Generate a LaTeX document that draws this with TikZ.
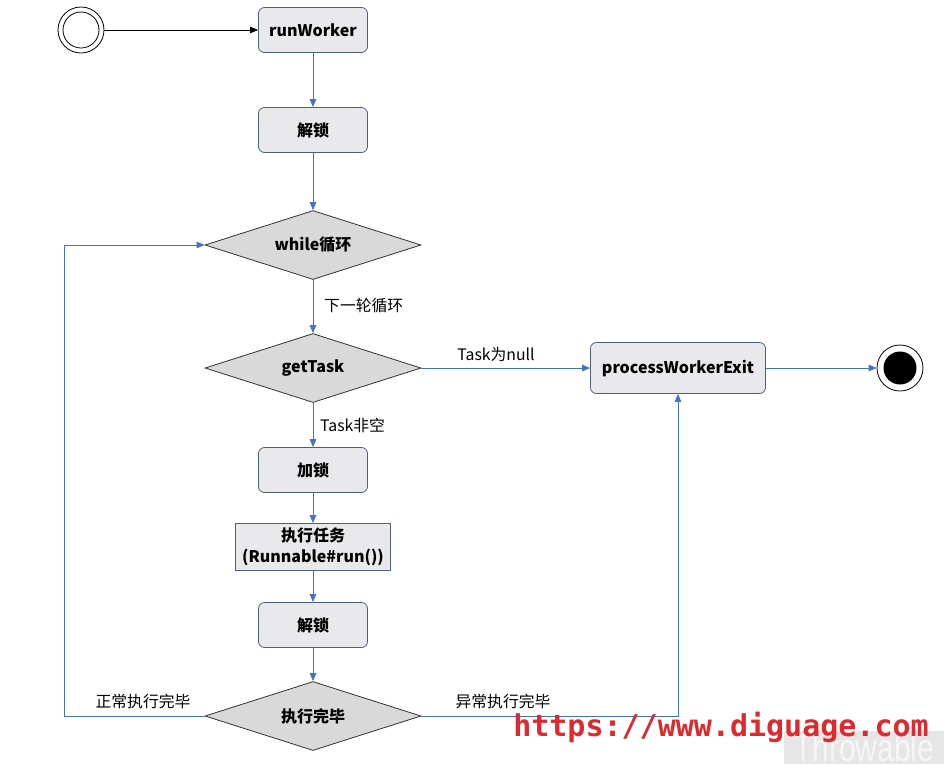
\documentclass[tikz,border=0pt]{standalone}
\usepackage{fontspec}
\setmainfont{Noto Sans CJK SC}
\newfontfamily\wmfont{DejaVu Sans Mono}
\newfontfamily\wmsans{Liberation Sans}
\usetikzlibrary{shapes.geometric,arrows.meta}
\definecolor{boxfill}{HTML}{E9E9EB}
\definecolor{boxline}{HTML}{4E5D80}
\definecolor{diafill}{HTML}{D9D9D9}
\definecolor{flowblue}{HTML}{4472C4}
\definecolor{wmred}{HTML}{DC2A2E}
\definecolor{wmbox}{HTML}{E6E6E6}
\definecolor{wmtext}{HTML}{F6F6F6}
\tikzset{
  statebox/.style={draw=boxline, fill=boxfill, rounded corners=6pt, line width=0.8pt,
    minimum width=109pt, minimum height=45pt, inner sep=0pt,
    font=\fontsize{16}{19}\selectfont\bfseries},
  taskbox/.style={draw=boxline, fill=boxfill, line width=0.8pt,
    minimum width=155pt, minimum height=47pt, inner sep=0pt, align=center,
    font=\fontsize{16}{21}\selectfont\bfseries},
  decision/.style={diamond, draw=black!80, fill=diafill, line width=0.8pt,
    minimum width=216pt, minimum height=69pt, inner sep=0pt, aspect=3.1,
    font=\fontsize{16}{19}\selectfont\bfseries},
  flow/.style={draw=flowblue, line width=0.8pt, -{Triangle[length=8pt,width=6.5pt]}},
  startflow/.style={draw=black, line width=0.8pt, -{Triangle[length=8pt,width=6.5pt]}},
  edgelabel/.style={font=\fontsize{15.8}{18}\selectfont, inner sep=0pt}
}
\begin{document}
\begin{tikzpicture}[x=1pt,y=-1pt]
\useasboundingbox (0,0) rectangle (944,764);
% start and end
\node[circle, draw=black, line width=0.8pt, minimum size=46pt, inner sep=0pt] (start) at (81,30) {};
\node[circle, draw=black, line width=0.8pt, minimum size=36pt, inner sep=0pt] at (81,30) {};
\node[circle, draw=black, line width=0.8pt, minimum size=46pt, inner sep=0pt, fill=white] (end) at (900,368) {};
\node[circle, fill=black, minimum size=33pt, inner sep=0pt] at (900,368) {};
% nodes
\node[statebox] (rw) at (313,30) {runWorker};
\node[statebox] (ul1) at (313,130) {解锁};
\node[decision] (wh) at (313,245) {while循环};
\node[decision] (gt) at (313,368) {getTask};
\node[statebox, minimum width=175pt, minimum height=51pt] (pwe) at (678,368) {processWorkerExit};
\node[statebox] (lk) at (313,470) {加锁};
\node[taskbox] (ex) at (313,547) {执行任务\\(Runnable\#run())};
\node[statebox] (ul2) at (313,625) {解锁};
\node[decision] (done) at (313,716) {执行完毕};
% connectors
\draw[startflow] (start) -- (rw);
\draw[flow] (rw) -- (ul1);
\draw[flow] (ul1) -- (wh);
\draw[flow] (wh) -- (gt);
\draw[flow] (gt) -- (pwe);
\draw[flow] (pwe) -- (end);
\draw[flow] (gt) -- (lk);
\draw[flow] (lk) -- (ex);
\draw[flow] (ex) -- (ul2);
\draw[flow] (ul2) -- (done);
\coordinate (loopcorner) at (64,716);
\draw[flow] (done.west) -- (loopcorner) |- (wh.west);
\draw[flow] (done.east) -| (pwe.south);
% labels
\node[edgelabel, anchor=west] (lnext) at (324,306) {下一轮循环};
\node[edgelabel] (lnull) at (496,354) {Task为null};
\node[edgelabel, anchor=west] (lnonempty) at (320,425) {Task非空};
\node[edgelabel] (lnormal) at (143,701) {正常执行完毕};
\node[edgelabel] (labnormal) at (503,701) {异常执行完毕};
% watermark
\fill[wmbox] (784,731) rectangle (944,764);
\node[font=\wmsans\fontsize{30}{30}\selectfont, text=wmtext, anchor=north west, inner sep=0pt, yscale=1.3] (wm2) at (794,733) {Throwable};
\node[font=\wmfont\bfseries\fontsize{30}{30}\selectfont, text=wmred, inner sep=0pt] (wm1) at (721,727) {https://www.diguage.com};
\end{tikzpicture}
\end{document}
